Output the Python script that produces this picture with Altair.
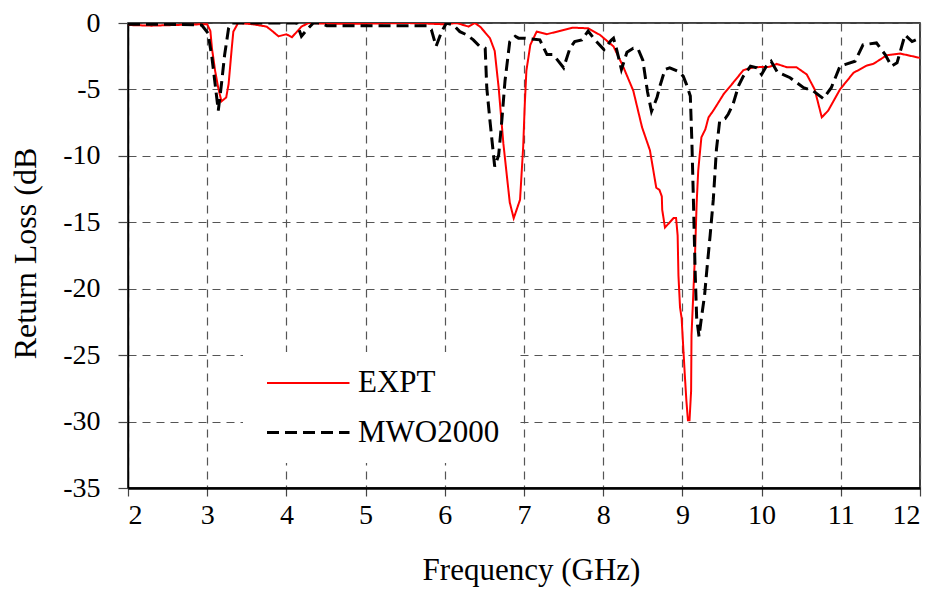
import altair as alt
import pandas as pd

# EXPT (measured) curve
expt_f = [2.0, 2.3, 2.6, 2.9, 3.0, 3.04, 3.06, 3.10, 3.14, 3.18, 3.24, 3.27, 3.31, 3.33, 3.39,
          3.58, 3.75, 3.82, 3.90, 4.00, 4.07, 4.19, 4.28, 4.5, 5.0, 5.5, 5.8, 6.0, 6.15, 6.30,
          6.38, 6.45, 6.57, 6.63, 6.68, 6.74, 6.82, 6.87, 6.95, 6.99, 7.01, 7.03, 7.08, 7.16,
          7.29, 7.45, 7.62, 7.81, 7.96, 8.13, 8.25, 8.38, 8.49, 8.59, 8.67, 8.71, 8.74, 8.745,
          8.78, 8.89, 8.92, 8.94, 8.95, 8.97, 8.99, 9.03, 9.05, 9.07, 9.09, 9.11, 9.115, 9.16,
          9.18, 9.20, 9.22, 9.24, 9.29, 9.33, 9.39, 9.52, 9.64, 9.77, 9.90, 10.1, 10.19, 10.32,
          10.44, 10.57, 10.67, 10.76, 10.84, 10.99, 11.16, 11.33, 11.41, 11.58, 11.75, 12.0]
expt_db = [-0.15, -0.2, -0.15, -0.1, -0.1, -0.6, -1.9, -3.6, -4.9, -5.9, -5.6, -4.6, -1.9, -0.65, 0.0,
           -0.1, -0.27, -0.6, -1.0, -0.85, -1.07, -0.27, 0.0, -0.05, -0.05, 0.0, -0.05, -0.1, 0.0, -0.27,
           0.0, -0.3, -1.14, -2.1, -4.87, -9.1, -13.5, -14.7, -13.3, -9.3, -6.1, -3.6, -1.64, -0.65,
           -0.84, -0.6, -0.35, -0.4, -0.9, -1.76, -3.25, -5.1, -7.84, -9.58, -12.4, -12.56, -13.05, -14.05,
           -15.4, -14.67, -14.67, -16.0, -19.0, -21.4, -22.2, -26.45, -28.4, -29.9, -29.9, -27.7, -23.5, -17.3,
           -13.55, -11.1, -9.83, -8.6, -8.0, -7.1, -6.6, -5.36, -4.5, -3.55, -3.33, -3.3, -3.08, -3.33,
           -3.33, -3.87, -5.0, -7.1, -6.6, -5.0, -3.75, -3.2, -3.08, -2.43, -2.3, -2.63]

# MWO2000 (simulated) curve
mwo_f = [2.0, 2.5, 2.93, 3.01, 3.06, 3.10, 3.14, 3.18, 3.22, 3.27, 3.31, 3.6, 4.0, 4.13, 4.19,
         4.26, 4.34, 4.42, 4.51, 5.0, 5.5, 5.77, 5.83, 5.89, 5.96, 6.02, 6.11, 6.19, 6.28, 6.36,
         6.44, 6.51, 6.53, 6.57, 6.63, 6.68, 6.72, 6.76, 6.82, 6.89, 6.93, 7.01, 7.20, 7.29, 7.37,
         7.50, 7.58, 7.64, 7.73, 7.81, 7.90, 8.01, 8.10, 8.13, 8.17, 8.23, 8.30, 8.38, 8.44, 8.50,
         8.56, 8.61, 8.68, 8.71, 8.78, 8.84, 8.95, 9.01, 9.05, 9.10, 9.12, 9.14, 9.16, 9.18, 9.21,
         9.24, 9.28, 9.31, 9.35, 9.39, 9.43, 9.47, 9.54, 9.58, 9.64, 9.71, 9.77, 9.86, 9.94, 10.0,
         10.06, 10.12, 10.20, 10.36, 10.53, 10.65, 10.78, 10.88, 10.99, 11.05, 11.18, 11.28, 11.45,
         11.56, 11.64, 11.71, 11.81, 11.90, 12.0]
mwo_db = [-0.1, -0.1, -0.15, -0.77, -2.6, -4.6, -6.6, -4.6, -2.4, -0.4, 0.0, 0.0, 0.0, 0.0, -1.0,
          -0.5, 0.0, 0.0, -0.2, -0.2, -0.2, -0.2, -0.5, -1.76, -0.65, 0.0, -0.15, -0.65, -0.9, -1.27,
          -1.76, -1.9, -4.87, -7.35, -10.8, -9.95, -7.35, -4.37, -1.4, -1.0, -1.14, -1.14, -1.27, -2.38, -2.38,
          -3.37, -1.9, -1.4, -1.27, -0.6, -1.3, -2.0, -1.3, -1.14, -2.0, -3.5, -2.2, -1.9, -1.95, -2.8,
          -5.2, -6.65, -5.6, -4.87, -3.5, -3.37, -3.65, -4.0, -4.6, -5.5, -9.0, -13.55, -18.5, -22.2, -23.6,
          -22.2, -20.5, -18.5, -16.0, -13.3, -9.5, -7.4, -7.2, -6.85, -6.1, -4.7, -4.0, -3.25, -3.37, -3.87,
          -3.25, -2.88, -3.7, -4.12, -4.87, -5.1, -5.7, -4.87, -3.25, -3.13, -2.88, -1.64, -1.5,
          -2.38, -3.25, -3.0, -0.9, -1.4, -1.14]

series_names = ["EXPT", "MWO2000"]
x_ticks = list(range(2, 13))
y_ticks = list(range(-35, 1, 5))

df = pd.concat([
    pd.DataFrame({"f": expt_f, "db": expt_db, "series": series_names[0], "order": range(len(expt_f))}),
    pd.DataFrame({"f": mwo_f, "db": mwo_db, "series": series_names[1], "order": range(len(mwo_f))}),
])

FONT = "Liberation Serif"

chart = alt.Chart(df).mark_line(clip=True).encode(
    x=alt.X("f:Q", scale=alt.Scale(domain=[2, 12], nice=False),
            axis=alt.Axis(title="Frequency (GHz)", values=x_ticks, labelExpr="'' + datum.value",
                          tickSize=8, labelPadding=5, titleX=403, titleY=82, titleBaseline="middle",
                          domainWidth=2.5)),
    y=alt.Y("db:Q", scale=alt.Scale(domain=[-35, 0], nice=False),
            axis=alt.Axis(title="Return Loss (dB", values=y_ticks, labelExpr="'' + datum.value",
                          tickSize=10, labelPadding=18, titleX=-103, titleY=230, titleFontSize=32,
                          titleBaseline="middle", domainWidth=1.5)),
    color=alt.Color("series:N", scale=alt.Scale(domain=series_names, range=["#ff0000", "#000000"]),
                    legend=alt.Legend(title=None)),
    strokeDash=alt.StrokeDash("series:N", scale=alt.Scale(domain=series_names, range=[[1, 0], [12, 6]]),
                              legend=alt.Legend(title=None)),
    strokeWidth=alt.StrokeWidth("series:N", scale=alt.Scale(domain=series_names, range=[2, 3]),
                                legend=alt.Legend(title=None)),
    order="order:Q",
).properties(
    width=792, height=465,
    autosize=alt.AutoSizeParams(type="none"),
    padding={"left": 120, "top": 15, "right": 13, "bottom": 100},
).configure_view(
    stroke="black", strokeWidth=1.5
).configure_axis(
    labelFont=FONT, titleFont=FONT, labelFontSize=28, titleFontSize=31,
    labelColor="black", titleColor="black", titleFontWeight="normal",
    domainColor="black", tickColor="#444", tickWidth=1.2,
    grid=True, gridColor="#555", gridDash=[8, 6], gridWidth=1.2,
).configure_legend(
    orient="none", legendX=115, legendY=329,
    symbolType="M-0.5,0L5,0", symbolSize=900,
    labelFont=FONT, labelFontSize=31, labelColor="black", labelOffset=67,
    fillColor="white", padding=15, rowPadding=18, labelLimit=300,
)

chart.save("out.html", embed_options={"renderer": "svg", "actions": False})
